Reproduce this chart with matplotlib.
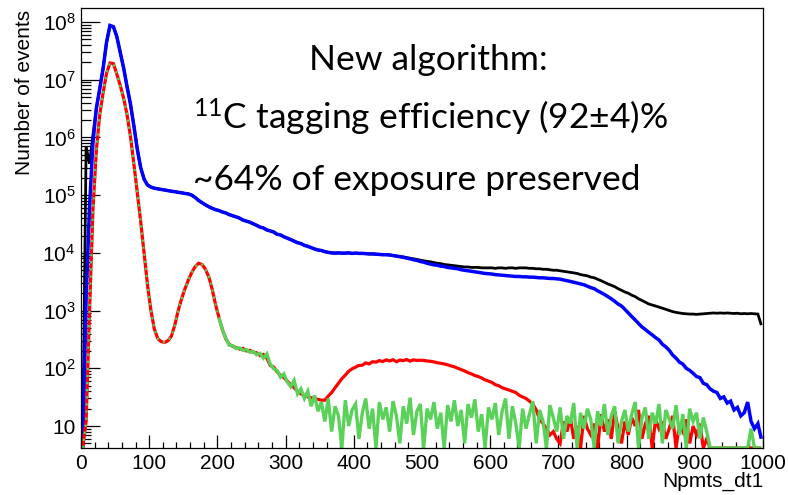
import numpy as np
import matplotlib.pyplot as plt
from matplotlib.ticker import FixedLocator, NullFormatter

plt.rcParams['font.family'] = ['Liberation Sans', 'DejaVu Sans']
plt.rcParams['mathtext.fontset'] = 'custom'
plt.rcParams['mathtext.rm'] = 'Liberation Sans'

# 5-unit bins over Npmts_dt1 = 0..1000
edges = np.arange(0, 1005, 5)
centers = edges[:-1] + 2.5

# all events (blue)
blue = [
    0, 1.6e3, 6.3e4, 8e5, 3.2e6, 7e6, 1.6e7, 4.5e7, 8.7e7, 8.3e7,
    5.6e7, 3e7, 1.6e7, 7.6e6, 3.8e6, 1.6e6, 6.3e5, 3e5, 1.9e5, 1.5e5,
    1.38e5, 1.32e5, 1.29e5, 1.26e5, 1.23e5, 1.2e5, 1.17e5, 1.15e5, 1.12e5, 1.1e5,
    1.07e5, 1.05e5, 1e5, 9.1e4, 8.1e4, 7.4e4, 6.8e4, 6.3e4, 5.9e4, 5.6e4,
    5.4e4, 5.1e4, 4.9e4, 4.6e4, 4.4e4, 4.2e4, 4e4, 3.7e4, 3.55e4, 3.4e4,
    3.2e4, 3e4, 2.8e4, 2.7e4, 2.5e4, 2.4e4, 2.3e4, 2.1e4, 2.05e4, 1.9e4,
    1.8e4, 1.7e4, 1.6e4, 1.5e4, 1.45e4, 1.35e4, 1.3e4, 1.23e4, 1.17e4, 1.12e4,
    1.1e4, 1.05e4, 1.02e4, 1e4, 9.9e3, 1e4, 9.9e3, 9.9e3, 1e4, 9.8e3,
    9.9e3, 9.8e3, 9.8e3, 9.7e3, 9.6e3, 9.6e3, 9.5e3, 9.4e3, 9.3e3, 9.3e3,
    9.2e3, 9e3, 8.8e3, 8.6e3, 8.4e3, 8.1e3, 7.9e3, 7.6e3, 7.4e3, 7.1e3,
    6.9e3, 6.6e3, 6.4e3, 6.2e3, 6.1e3, 5.9e3, 5.8e3, 5.6e3, 5.5e3, 5.4e3,
    5.3e3, 5.1e3, 5e3, 4.9e3, 4.8e3, 4.7e3, 4.6e3, 4.5e3, 4.4e3, 4.35e3,
    4.3e3, 4.2e3, 4.15e3, 4.1e3, 4.05e3, 4e3, 3.95e3, 3.9e3, 3.9e3, 3.85e3,
    3.85e3, 3.8e3, 3.8e3, 3.75e3, 3.7e3, 3.7e3, 3.65e3, 3.6e3, 3.6e3, 3.55e3,
    3.5e3, 3.4e3, 3.3e3, 3.2e3, 3.1e3, 3e3, 2.9e3, 2.8e3, 2.65e3, 2.5e3,
    2.4e3, 2.2e3, 2.05e3, 1.9e3, 1.75e3, 1.6e3, 1.45e3, 1.3e3, 1.2e3, 1.05e3,
    910, 790, 690, 600, 520, 470, 420, 380, 340, 310,
    260, 235, 205, 170, 150, 128, 118, 100, 92, 82,
    72, 69, 55, 52, 44, 40, 38, 30, 32, 25,
    27, 19, 21, 15, 17, 26, 12, 9, 11, 6,
]

# total (black): differs from blue below 20 and above 450
black_head = [0, 7e5, 3.5e5, 1.1e6]
black_tail = [
    9.2e3, 9e3, 8.8e3, 8.6e3, 8.5e3, 8.3e3, 8.1e3, 7.9e3, 7.7e3, 7.5e3,
    7.3e3, 7.1e3, 7e3, 6.8e3, 6.6e3, 6.5e3, 6.3e3, 6.2e3, 6.1e3, 6e3,
    5.9e3, 5.8e3, 5.7e3, 5.7e3, 5.6e3, 5.6e3, 5.6e3, 5.5e3, 5.5e3, 5.5e3,
    5.5e3, 5.4e3, 5.5e3, 5.5e3, 5.4e3, 5.5e3, 5.5e3, 5.4e3, 5.5e3, 5.5e3,
    5.5e3, 5.4e3, 5.4e3, 5.3e3, 5.3e3, 5.2e3, 5.2e3, 5.1e3, 5e3, 5e3,
    4.9e3, 4.8e3, 4.7e3, 4.6e3, 4.5e3, 4.4e3, 4.2e3, 4.1e3, 4e3, 3.8e3,
    3.7e3, 3.5e3, 3.3e3, 3.1e3, 2.9e3, 2.75e3, 2.6e3, 2.4e3, 2.25e3, 2.1e3,
    2e3, 1.85e3, 1.75e3, 1.6e3, 1.5e3, 1.4e3, 1.3e3, 1.25e3, 1.2e3, 1.15e3,
    1.1e3, 1.05e3, 1e3, 960, 930, 910, 890, 880, 870, 870,
    860, 870, 880, 890, 900, 910, 900, 910, 900, 910,
    900, 890, 900, 880, 890, 880, 890, 880, 870, 560,
]
black = black_head + blue[4:90] + black_tail

# 11C candidates (red)
red = [
    0, 12, 1e3, 5.5e4, 6e5, 2.5e6, 6e6, 1.3e7, 1.95e7, 1.9e7,
    1.25e7, 8e6, 4.8e6, 2.5e6, 1.05e6, 3.5e5, 1.1e5, 3.5e4, 1e4, 2.8e3,
    1e3, 480, 330, 290, 280, 300, 360, 560, 1e3, 1.6e3,
    2.4e3, 3.4e3, 4.6e3, 5.8e3, 6.6e3, 6.3e3, 5.2e3, 3.8e3, 2.3e3, 1.25e3,
    740, 460, 320, 260, 240, 228, 215, 222, 200, 205,
    190, 186, 166, 174, 151, 112, 105, 87, 76, 69,
    60, 52, 46, 40, 36, 34, 32, 31, 30, 29,
    28, 28, 33, 38, 46, 55, 66, 76, 89, 98,
    105, 112, 113, 124, 119, 130, 128, 136, 131, 140,
    134, 141, 130, 139, 136, 142, 133, 140, 137, 138,
    137, 134, 132, 129, 125, 122, 119, 115, 110, 106,
    100, 95, 90, 84, 80, 75, 72, 68, 63, 60,
    57, 52, 50, 46, 44, 42, 40, 38, 34, 32,
    30, 27, 24, 19, 13, 11, 9, 7, 8, 6,
    5, 12, 8, 14, 6, 10, 3, 15, 9, 7,
    11, 4, 16, 8, 13, 6, 18, 9, 5, 12,
    7, 14, 10, 19, 6, 11, 15, 4, 13, 9,
    12, 6, 9, 15, 4, 11, 8, 13, 5, 10,
    7, 11, 4, 6, 0, 0, 3, 0, 0, 0,
    0, 0, 0, 0, 0, 0, 0, 0, 0, 0,
]

# tagged events (green): same as red below 200
green_tail = [
    740, 460, 330, 250, 246, 220, 226, 205, 212, 190,
    196, 172, 182, 150, 178, 118, 98, 92, 70, 80,
    58, 48, 62, 36, 44, 30, 40, 22, 34, 18,
    26, 12, 30, 8, 22, 15, 4, 28, 10, 19,
    24, 6, 17, 30, 9, 20, 3, 26, 13, 21,
    8, 27, 15, 5, 22, 11, 31, 7, 18, 24,
    4, 20, 13, 26, 9, 17, 3, 23, 12, 28,
    10, 19, 5, 24, 14, 29, 8, 16, 3, 21,
    13, 25, 7, 18, 30, 6, 22, 11, 4, 20,
    9, 16, 27, 5, 19, 12, 3, 23, 14, 8,
    21, 6, 15, 11, 25, 4, 17, 9, 20, 13,
    3, 18, 10, 24, 7, 15, 22, 5, 12, 19,
    8, 16, 26, 4, 14, 21, 6, 17, 11, 24,
    5, 19, 13, 9, 23, 7, 16, 3, 20, 12,
    17, 6, 14, 8, 2, 0, 0, 0, 0, 0,
    0, 0, 0, 0, 0, 0, 9, 0, 0, 0,
]
green = red[:40] + green_tail

ylo, yhi = 4.16, 1.75e8

fig = plt.figure(figsize=(7.88, 4.95), dpi=100)
ax = fig.add_axes([81 / 788, 47 / 495, 682 / 788, 440 / 495])
ax.set_yscale('log')


def h(vals):
    # empty bins sit on the lower frame, like ROOT does
    return np.clip(np.asarray(vals, dtype=float), ylo, None)


kw = dict(solid_joinstyle='miter', solid_capstyle='butt')
ax.plot(centers, h(black), color='black', lw=2.0, **kw)
ax.plot(centers, h(blue), color='#0000ff', lw=2.5, **kw)
ax.plot(centers, h(red), color='#ff0000', lw=2.3, **kw)
ax.plot(centers[:41], h(green[:41]), color='#5ad25a', lw=1.6,
        linestyle=(0, (1, 2.2)))
ax.plot(centers[40:], h(green[40:]), color='#5ad25a', lw=2.4, **kw)

ax.set_xlim(0, 1000)
ax.set_ylim(ylo, yhi)

ax.xaxis.set_major_locator(FixedLocator(np.arange(0, 1001, 100)))
ax.xaxis.set_minor_locator(FixedLocator(np.arange(0, 1001, 20)))
ax.set_xticklabels([str(v) for v in range(0, 1001, 100)])

dec = [10.0 ** k for k in range(1, 9)]
ax.yaxis.set_major_locator(FixedLocator(dec))
ax.set_yticklabels(['10'] + [r'$\mathregular{10^{%d}}$' % k for k in range(2, 9)])
minor = [m * 10.0 ** k for k in range(0, 9) for m in range(2, 10)]
ax.yaxis.set_minor_locator(FixedLocator([v for v in minor if ylo < v < yhi]))
ax.yaxis.set_minor_formatter(NullFormatter())

ax.tick_params(axis='both', which='both', direction='in', width=0.9,
               labelsize=15, top=False, right=False)
ax.tick_params(axis='y', which='major', length=14, pad=4)
ax.tick_params(axis='y', which='minor', length=7)
ax.tick_params(axis='x', which='major', length=9.5, pad=4)
ax.tick_params(axis='x', which='minor', length=4.5)
for s in ax.spines.values():
    s.set_linewidth(0.9)

fig.text(25 / 788, 1 - 10 / 495, 'Number of events', rotation=90,
         ha='center', va='top', fontsize=15)
fig.text(763 / 788, 1 - 487 / 495, 'Npmts_dt1', ha='right', va='baseline',
         fontsize=15)

big = dict(va='baseline', fontsize=25.5, family='Lato')
fig.text(428 / 788, 1 - 70 / 495, 'New algorithm:', ha='center', **big)
fig.text(193 / 788, 1 - 130 / 495,
         r'$\mathregular{^{11}}$C tagging efficiency (92±4)%', ha='left', **big)
fig.text(193 / 788, 1 - 190 / 495, '~64% of exposure preserved',
         ha='left', **big)

fig.savefig('out.png', dpi=100)
